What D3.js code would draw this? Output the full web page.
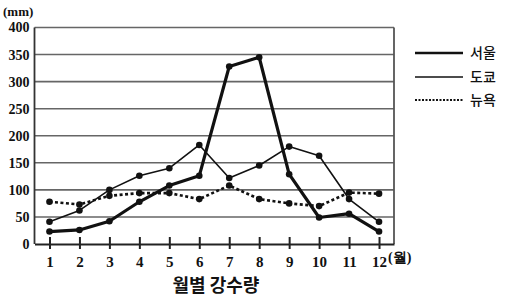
<!DOCTYPE html>
<html><head><meta charset="utf-8">
<script src="https://cdn.jsdelivr.net/npm/d3@7"></script>
<style>body{margin:0;background:#fff}svg{display:block}</style>
</head><body>
<svg id="c" width="510" height="302"></svg>
<script>
const months = [1,2,3,4,5,6,7,8,9,10,11,12];
const seoul  = [23,26,42,78,108,126,328,345,129,49,56,23];
const tokyo  = [41,62,100,126,140,183,122,145,180,163,83,41];
const newyork= [78,73,89,94,94,83,108,83,75,70,95,93];
const yTicks = [0,50,100,150,200,250,300,350,400];
const seriesNames = ["서울","도쿄","뉴욕"];

const svg = d3.select("#c");
const x = d3.scaleLinear().domain([0.5,12.5]).range([34.5,394]);
const y = d3.scaleLinear().domain([0,400]).range([244,27.5]);
const serif = "'Liberation Serif','DejaVu Serif',serif";

// gridlines
svg.append("g").selectAll("line").data(yTicks.filter(d=>d>0)).join("line")
  .attr("x1",x(0.5)).attr("x2",x(12.5)).attr("y1",d=>y(d)).attr("y2",d=>y(d))
  .attr("stroke","#666").attr("stroke-width",1.6);
// right border
svg.append("line").attr("x1",x(12.5)).attr("x2",x(12.5)).attr("y1",y(400)).attr("y2",y(0))
  .attr("stroke","#555").attr("stroke-width",1.8);
// left axis
svg.append("line").attr("x1",x(0.5)).attr("x2",x(0.5)).attr("y1",y(400)).attr("y2",y(0))
  .attr("stroke","#333").attr("stroke-width",1.8);

// y labels
const yAxis = d3.axisLeft(y).tickValues(yTicks).tickSize(0).tickPadding(5);
const gy = svg.append("g").attr("transform",`translate(${x(0.5)},0)`).call(yAxis);
gy.select(".domain").remove();
gy.selectAll("text").attr("font-family",serif).attr("font-size",14).attr("font-weight","bold").attr("fill","#111");

// x axis
const xAxis = d3.axisBottom(x).tickValues(months).tickSize(5).tickPadding(7).tickSizeOuter(0);
const gx = svg.append("g").attr("transform",`translate(0,${y(0)})`).call(xAxis);
gx.select(".domain").attr("stroke","#222").attr("stroke-width",2);
gx.selectAll(".tick line").attr("y1",-7).attr("stroke","#222").attr("stroke-width",2);
gx.selectAll("text").attr("font-family",serif).attr("font-size",15).attr("font-weight","bold").attr("fill","#111");

svg.append("text").attr("x",x(12)+9).attr("y",262).attr("font-family",serif).attr("font-size",14).attr("font-weight","bold").attr("fill","#111").text("(월)");
svg.append("text").attr("x",3).attr("y",16).attr("font-family",serif).attr("font-size",13).attr("font-weight","bold").attr("fill","#111").text("(mm)");
svg.append("text").attr("x",216).attr("y",292).attr("text-anchor","middle").attr("font-family","'Noto Sans CJK KR',sans-serif").attr("font-size",18).attr("font-weight","bold").attr("fill","#111").text("월별 강수량");

const line = d3.line().x((d,i)=>x(months[i])).y(d=>y(d));
const series = [
  {vals: seoul, w: 3.2, dash: null},
  {vals: tokyo, w: 1.6, dash: null},
  {vals: newyork, w: 2.6, dash: "3,2.5"}
];
series.forEach(s=>{
  svg.append("path").datum(s.vals).attr("d",line).attr("fill","none").attr("stroke","#111")
    .attr("stroke-width",s.w).attr("stroke-dasharray",s.dash).attr("stroke-linejoin","round");
});
series.forEach(s=>{
  svg.append("g").selectAll("circle").data(s.vals).join("circle")
    .attr("cx",(d,i)=>x(months[i])).attr("cy",d=>y(d)).attr("r",3.3).attr("fill","#111");
});

// legend
const legY = [53,77,100];
series.forEach((s,i)=>{
  svg.append("line").attr("x1",415).attr("x2",463).attr("y1",legY[i]).attr("y2",legY[i])
    .attr("stroke","#111").attr("stroke-width",i===0?2.6:(i===1?1.5:2)).attr("stroke-dasharray",i===2?"2,1.5":null);
  svg.append("text").attr("x",470).attr("y",legY[i]+5).attr("font-family","'Noto Sans CJK KR',sans-serif")
    .attr("font-size",14).attr("font-weight",500).attr("fill","#111").text(seriesNames[i]);
});
</script>
</body></html>
